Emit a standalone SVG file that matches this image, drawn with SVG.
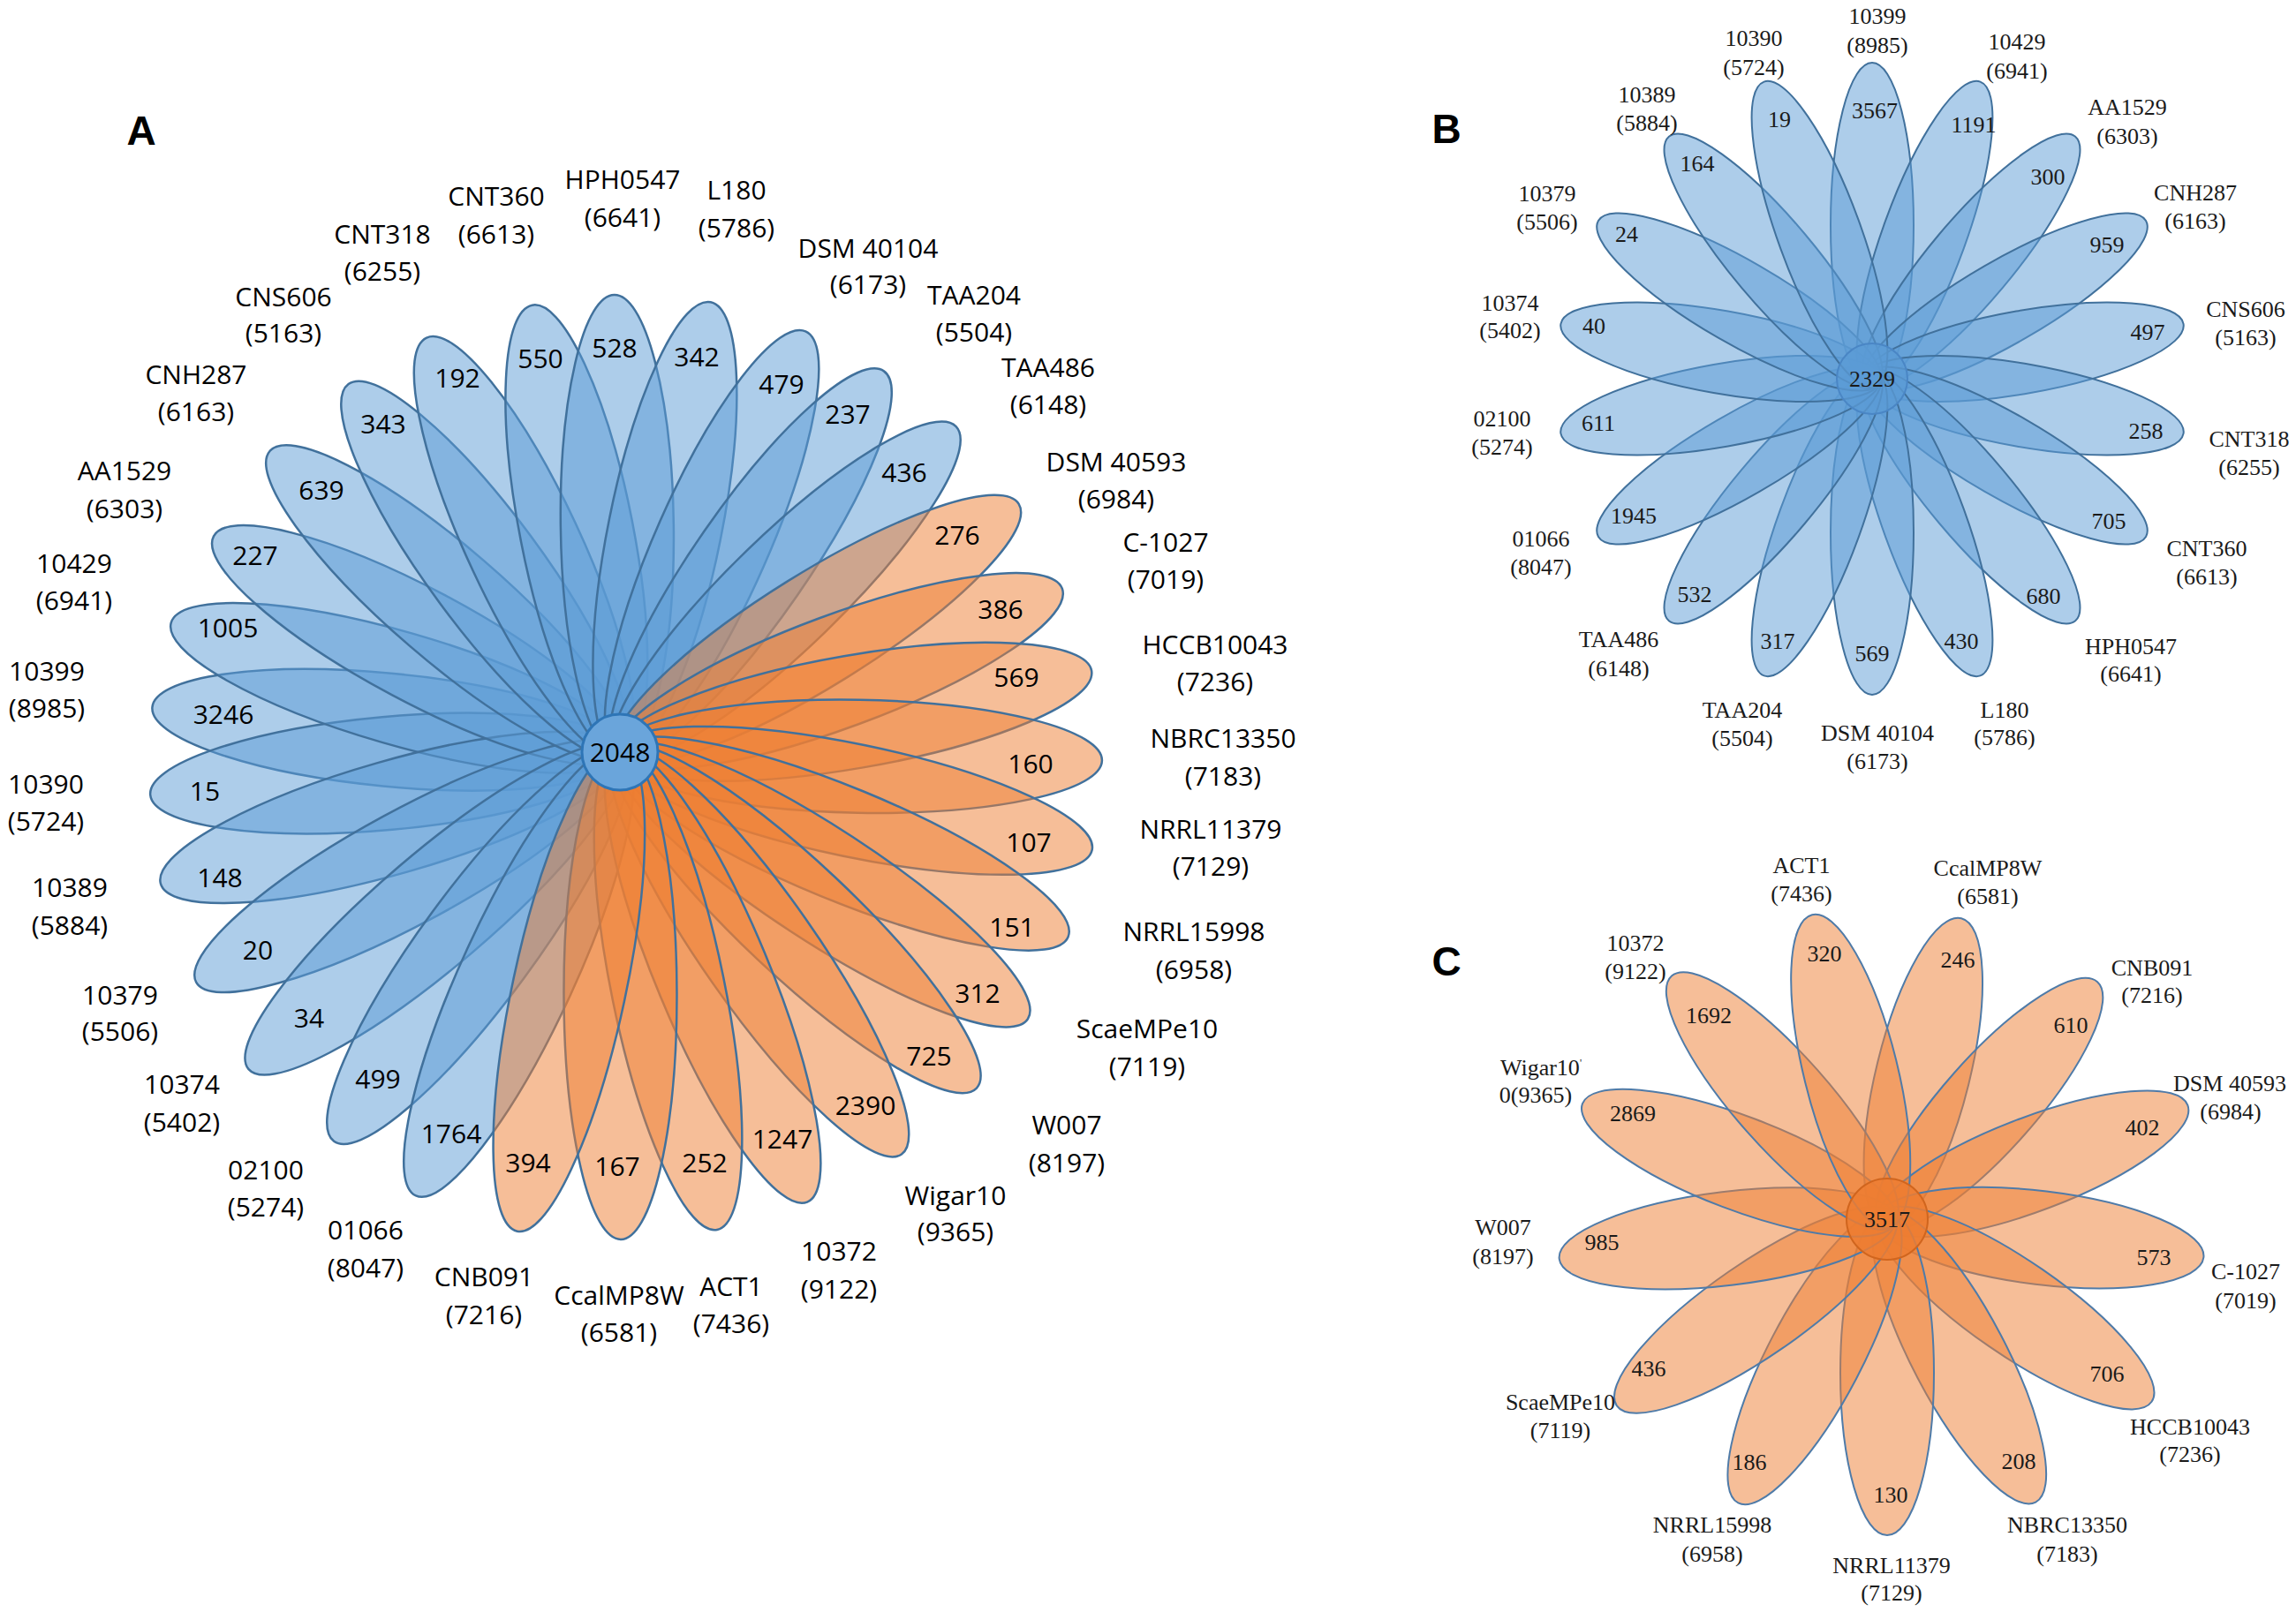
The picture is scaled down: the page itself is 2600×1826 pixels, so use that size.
<svg xmlns="http://www.w3.org/2000/svg" width="2600" height="1826" viewBox="0 0 2600 1826">
<style>
.bg{fill:#fff}
.pb{fill:#5B9BD5;fill-opacity:.5;stroke:#41719C;stroke-width:2.5}
.po{fill:#ED7D31;fill-opacity:.5;stroke:#41719C;stroke-width:2.5}
.qb{fill:#5B9BD5;fill-opacity:.5;stroke:#41719C;stroke-width:2}
.qo{fill:#ED7D31;fill-opacity:.5;stroke:#4F7BA8;stroke-width:2}
.ta{font-family:"Open Sans","Noto Sans",sans-serif;font-size:30px;fill:#000;text-anchor:middle}
.ts{font-family:"Liberation Serif","Times New Roman",serif;font-size:26px;fill:#1a1a1a;text-anchor:middle}
.pl{font-family:"Liberation Sans",Arial,sans-serif;font-size:46px;font-weight:bold;fill:#000;text-anchor:middle}
</style>
<rect class="bg" x="0" y="0" width="2600" height="1826"/>

<!-- Panel A -->
<g id="panelA">
 <g id="A-petals-blue" transform="translate(702 852)">
  <g id="A-p10399"><ellipse class="pb" transform="rotate(185.5)" cx="263.5" cy="0" rx="268.5" ry="64"/></g>
  <g id="A-p10390"><ellipse class="pb" transform="rotate(174.8)" cx="264.5" cy="0" rx="269.5" ry="64"/></g>
  <g id="A-p10429"><ellipse class="pb" transform="rotate(196.1)" cx="262" cy="0" rx="267" ry="64"/></g>
  <g id="A-p10389"><ellipse class="pb" transform="rotate(164)" cx="268" cy="0" rx="273" ry="64"/></g>
  <g id="A-pAA1529"><ellipse class="pb" transform="rotate(208)" cx="258" cy="0" rx="263" ry="64"/></g>
  <g id="A-p10379"><ellipse class="pb" transform="rotate(151.5)" cx="270.5" cy="0" rx="275.5" ry="64"/></g>
  <g id="A-pCNH287"><ellipse class="pb" transform="rotate(220.7)" cx="259" cy="0" rx="264" ry="64"/></g>
  <g id="A-p10374"><ellipse class="pb" transform="rotate(139.5)" cx="274" cy="0" rx="279" ry="64"/></g>
  <g id="A-pCNS606"><ellipse class="pb" transform="rotate(233.6)" cx="256.5" cy="0" rx="261.5" ry="64"/></g>
  <g id="A-p02100"><ellipse class="pb" transform="rotate(126.3)" cx="271" cy="0" rx="276" ry="64"/></g>
  <g id="A-pCNT318"><ellipse class="pb" transform="rotate(245)" cx="256.5" cy="0" rx="261.5" ry="64"/></g>
  <g id="A-p01066"><ellipse class="pb" transform="rotate(114.7)" cx="274" cy="0" rx="279" ry="64"/></g>
  <g id="A-pCNT360"><ellipse class="pb" transform="rotate(258.9)" cx="255.5" cy="0" rx="260.5" ry="64"/></g>
  <g id="A-pHPH0547"><ellipse class="pb" transform="rotate(-90.7)" cx="256.5" cy="0" rx="261.5" ry="64"/></g>
  <g id="A-pL180"><ellipse class="pb" transform="rotate(-78.6)" cx="257.5" cy="0" rx="262.5" ry="64"/></g>
  <g id="A-pDSM40104"><ellipse class="pb" transform="rotate(-66.2)" cx="258" cy="0" rx="263" ry="64"/></g>
  <g id="A-pTAA204"><ellipse class="pb" transform="rotate(-55.3)" cx="260" cy="0" rx="265" ry="64"/></g>
  <g id="A-pTAA486"><ellipse class="pb" transform="rotate(-44.1)" cx="262.5" cy="0" rx="267.5" ry="64"/></g>
 </g>
 <g id="A-petals-orange" transform="translate(702 852)">
  <g id="A-pDSM40593"><ellipse class="po" transform="rotate(-31.9)" cx="263.5" cy="0" rx="268.5" ry="64"/></g>
  <g id="A-pC1027"><ellipse class="po" transform="rotate(-20.3)" cx="264.5" cy="0" rx="269.5" ry="64"/></g>
  <g id="A-pHCCB10043"><ellipse class="po" transform="rotate(-9.8)" cx="268.5" cy="0" rx="273.5" ry="64"/></g>
  <g id="A-pNBRC13350"><ellipse class="po" transform="rotate(1)" cx="270.5" cy="0" rx="275.5" ry="64"/></g>
  <g id="A-pNRRL11379"><ellipse class="po" transform="rotate(11.7)" cx="270.5" cy="0" rx="275.5" ry="64"/></g>
  <g id="A-pNRRL15998"><ellipse class="po" transform="rotate(22.4)" cx="272" cy="0" rx="277" ry="64"/></g>
  <g id="A-pScaeMPe10"><ellipse class="po" transform="rotate(33.2)" cx="273.5" cy="0" rx="278.5" ry="64"/></g>
  <g id="A-pW007"><ellipse class="po" transform="rotate(43.3)" cx="275" cy="0" rx="280" ry="64"/></g>
  <g id="A-pWigar10"><ellipse class="po" transform="rotate(55)" cx="275.5" cy="0" rx="280.5" ry="64"/></g>
  <g id="A-p10372"><ellipse class="po" transform="rotate(67.4)" cx="273.5" cy="0" rx="278.5" ry="64"/></g>
  <g id="A-pACT1"><ellipse class="po" transform="rotate(78.5)" cx="273.5" cy="0" rx="278.5" ry="64"/></g>
  <g id="A-pCcalMP8W"><ellipse class="po" transform="rotate(89.9)" cx="273.5" cy="0" rx="278.5" ry="64"/></g>
  <g id="A-pCNB091"><ellipse class="po" transform="rotate(102.1)" cx="275" cy="0" rx="280" ry="64"/></g>
 </g>
 <g id="A-core">
  <circle cx="702" cy="852" r="43" fill="#6AA5DB" stroke="#2E75B6" stroke-width="3"/>
  <text class="ta" x="702" y="862.5">2048</text>
 </g>
 <g id="A-numbers">
  <text class="ta" x="696" y="404.5">528</text>
  <text class="ta" x="612" y="416.5">550</text>
  <text class="ta" x="518" y="438.5">192</text>
  <text class="ta" x="434" y="490.5">343</text>
  <text class="ta" x="364" y="565.5">639</text>
  <text class="ta" x="289" y="639.5">227</text>
  <text class="ta" x="258" y="721.5">1005</text>
  <text class="ta" x="253" y="819.5">3246</text>
  <text class="ta" x="232" y="906.5">15</text>
  <text class="ta" x="249" y="1004.5">148</text>
  <text class="ta" x="292" y="1086.5">20</text>
  <text class="ta" x="350" y="1163.5">34</text>
  <text class="ta" x="428" y="1232.5">499</text>
  <text class="ta" x="511" y="1294.5">1764</text>
  <text class="ta" x="598" y="1327.5">394</text>
  <text class="ta" x="699" y="1331.5">167</text>
  <text class="ta" x="798" y="1327.5">252</text>
  <text class="ta" x="886" y="1300.5">1247</text>
  <text class="ta" x="980" y="1262.5">2390</text>
  <text class="ta" x="1052" y="1206.5">725</text>
  <text class="ta" x="1107" y="1135.5">312</text>
  <text class="ta" x="1146" y="1060.5">151</text>
  <text class="ta" x="1165" y="964.5">107</text>
  <text class="ta" x="1167" y="875.5">160</text>
  <text class="ta" x="1151" y="777.5">569</text>
  <text class="ta" x="1133" y="700.5">386</text>
  <text class="ta" x="1084" y="616.5">276</text>
  <text class="ta" x="1024" y="545.5">436</text>
  <text class="ta" x="960" y="479.5">237</text>
  <text class="ta" x="885" y="445.5">479</text>
  <text class="ta" x="789" y="414.5">342</text>
 </g>
 <g id="A-labels">
  <text class="ta"><tspan x="562" y="232.5">CNT360</tspan><tspan x="562" y="275.5">(6613)</tspan></text>
  <text class="ta"><tspan x="705" y="213.5">HPH0547</tspan><tspan x="705" y="256.5">(6641)</tspan></text>
  <text class="ta"><tspan x="834" y="225.5">L180</tspan><tspan x="834" y="268.5">(5786)</tspan></text>
  <text class="ta"><tspan x="983" y="291.5">DSM 40104</tspan><tspan x="983" y="332.5">(6173)</tspan></text>
  <text class="ta"><tspan x="1103" y="344.5">TAA204</tspan><tspan x="1103" y="386.5">(5504)</tspan></text>
  <text class="ta"><tspan x="1187" y="426.5">TAA486</tspan><tspan x="1187" y="468.5">(6148)</tspan></text>
  <text class="ta"><tspan x="433" y="275.5">CNT318</tspan><tspan x="433" y="317.5">(6255)</tspan></text>
  <text class="ta"><tspan x="321" y="346.5">CNS606</tspan><tspan x="321" y="387.5">(5163)</tspan></text>
  <text class="ta"><tspan x="222" y="434.5">CNH287</tspan><tspan x="222" y="476.5">(6163)</tspan></text>
  <text class="ta"><tspan x="141" y="543.5">AA1529</tspan><tspan x="141" y="586.5">(6303)</tspan></text>
  <text class="ta"><tspan x="84" y="648.5">10429</tspan><tspan x="84" y="690.5">(6941)</tspan></text>
  <text class="ta"><tspan x="53" y="770.5">10399</tspan><tspan x="53" y="812.5">(8985)</tspan></text>
  <text class="ta"><tspan x="52" y="898.5">10390</tspan><tspan x="52" y="940.5">(5724)</tspan></text>
  <text class="ta"><tspan x="79" y="1015.5">10389</tspan><tspan x="79" y="1058.5">(5884)</tspan></text>
  <text class="ta"><tspan x="136" y="1137.5">10379</tspan><tspan x="136" y="1178.5">(5506)</tspan></text>
  <text class="ta"><tspan x="206" y="1238.5">10374</tspan><tspan x="206" y="1281.5">(5402)</tspan></text>
  <text class="ta"><tspan x="301" y="1335.5">02100</tspan><tspan x="301" y="1377.5">(5274)</tspan></text>
  <text class="ta"><tspan x="414" y="1403.5">01066</tspan><tspan x="414" y="1446.5">(8047)</tspan></text>
  <text class="ta"><tspan x="1264" y="533.5">DSM 40593</tspan><tspan x="1264" y="575.5">(6984)</tspan></text>
  <text class="ta"><tspan x="1320" y="624.5">C-1027</tspan><tspan x="1320" y="666.5">(7019)</tspan></text>
  <text class="ta"><tspan x="1376" y="740.5">HCCB10043</tspan><tspan x="1376" y="782.5">(7236)</tspan></text>
  <text class="ta"><tspan x="1385" y="846.5">NBRC13350</tspan><tspan x="1385" y="889.5">(7183)</tspan></text>
  <text class="ta"><tspan x="1371" y="949.5">NRRL11379</tspan><tspan x="1371" y="991.5">(7129)</tspan></text>
  <text class="ta"><tspan x="1352" y="1065.5">NRRL15998</tspan><tspan x="1352" y="1108.5">(6958)</tspan></text>
  <text class="ta"><tspan x="1299" y="1175.5">ScaeMPe10</tspan><tspan x="1299" y="1218.5">(7119)</tspan></text>
  <text class="ta"><tspan x="1208" y="1284.5">W007</tspan><tspan x="1208" y="1327.5">(8197)</tspan></text>
  <text class="ta"><tspan x="1082" y="1364.5">Wigar10</tspan><tspan x="1082" y="1405.5">(9365)</tspan></text>
  <text class="ta"><tspan x="950" y="1427.5">10372</tspan><tspan x="950" y="1470.5">(9122)</tspan></text>
  <text class="ta"><tspan x="828" y="1467.5">ACT1</tspan><tspan x="828" y="1509.5">(7436)</tspan></text>
  <text class="ta"><tspan x="701" y="1477.5">CcalMP8W</tspan><tspan x="701" y="1519.5">(6581)</tspan></text>
  <text class="ta"><tspan x="548" y="1456.5">CNB091</tspan><tspan x="548" y="1499.5">(7216)</tspan></text>
 </g>
 <text class="pl" x="160" y="164">A</text>
</g>

<!-- Panel B -->
<g id="panelB">
 <g id="B-petals" transform="translate(2120 429)">
  <g id="B-p10399"><ellipse class="qb" transform="rotate(-90)" cx="174" cy="0" rx="184" ry="47"/></g>
  <g id="B-p10429"><ellipse class="qb" transform="rotate(-70)" cx="174" cy="0" rx="184" ry="47"/></g>
  <g id="B-pAA1529"><ellipse class="qb" transform="rotate(-50)" cx="174" cy="0" rx="184" ry="47"/></g>
  <g id="B-pCNH287"><ellipse class="qb" transform="rotate(-30)" cx="174" cy="0" rx="184" ry="47"/></g>
  <g id="B-pCNS606"><ellipse class="qb" transform="rotate(-10)" cx="174" cy="0" rx="184" ry="47"/></g>
  <g id="B-pCNT318"><ellipse class="qb" transform="rotate(10)" cx="174" cy="0" rx="184" ry="47"/></g>
  <g id="B-pCNT360"><ellipse class="qb" transform="rotate(30)" cx="174" cy="0" rx="184" ry="47"/></g>
  <g id="B-pHPH0547"><ellipse class="qb" transform="rotate(50)" cx="174" cy="0" rx="184" ry="47"/></g>
  <g id="B-pL180"><ellipse class="qb" transform="rotate(70)" cx="174" cy="0" rx="184" ry="47"/></g>
  <g id="B-pDSM40104"><ellipse class="qb" transform="rotate(90)" cx="174" cy="0" rx="184" ry="47"/></g>
  <g id="B-pTAA204"><ellipse class="qb" transform="rotate(110)" cx="174" cy="0" rx="184" ry="47"/></g>
  <g id="B-pTAA486"><ellipse class="qb" transform="rotate(130)" cx="174" cy="0" rx="184" ry="47"/></g>
  <g id="B-p01066"><ellipse class="qb" transform="rotate(150)" cx="174" cy="0" rx="184" ry="47"/></g>
  <g id="B-p02100"><ellipse class="qb" transform="rotate(170)" cx="174" cy="0" rx="184" ry="47"/></g>
  <g id="B-p10374"><ellipse class="qb" transform="rotate(190)" cx="174" cy="0" rx="184" ry="47"/></g>
  <g id="B-p10379"><ellipse class="qb" transform="rotate(210)" cx="174" cy="0" rx="184" ry="47"/></g>
  <g id="B-p10389"><ellipse class="qb" transform="rotate(230)" cx="174" cy="0" rx="184" ry="47"/></g>
  <g id="B-p10390"><ellipse class="qb" transform="rotate(250)" cx="174" cy="0" rx="184" ry="47"/></g>
 </g>
 <g id="B-core">
  <circle cx="2120" cy="429" r="40" fill="#5B9BD5" fill-opacity=".75" stroke="#4A86C5" stroke-width="2"/>
  <text class="ts" x="2120" y="438">2329</text>
 </g>
 <g id="B-numbers">
  <text class="ts" x="2123" y="134">3567</text>
  <text class="ts" x="2015" y="144">19</text>
  <text class="ts" x="1922" y="194">164</text>
  <text class="ts" x="1842" y="274">24</text>
  <text class="ts" x="1805" y="378">40</text>
  <text class="ts" x="1810" y="488">611</text>
  <text class="ts" x="1850" y="593">1945</text>
  <text class="ts" x="1919" y="682">532</text>
  <text class="ts" x="2013" y="735">317</text>
  <text class="ts" x="2120" y="749">569</text>
  <text class="ts" x="2221" y="735">430</text>
  <text class="ts" x="2314" y="684">680</text>
  <text class="ts" x="2388" y="599">705</text>
  <text class="ts" x="2430" y="497">258</text>
  <text class="ts" x="2432" y="385">497</text>
  <text class="ts" x="2386" y="286">959</text>
  <text class="ts" x="2319" y="209">300</text>
  <text class="ts" x="2235" y="150">1191</text>
 </g>
 <g id="B-labels">
  <text class="ts"><tspan x="2126" y="27">10399</tspan><tspan x="2126" y="60">(8985)</tspan></text>
  <text class="ts"><tspan x="1986" y="52">10390</tspan><tspan x="1986" y="85">(5724)</tspan></text>
  <text class="ts"><tspan x="2284" y="56">10429</tspan><tspan x="2284" y="89">(6941)</tspan></text>
  <text class="ts"><tspan x="1865" y="116">10389</tspan><tspan x="1865" y="148">(5884)</tspan></text>
  <text class="ts"><tspan x="2409" y="130">AA1529</tspan><tspan x="2409" y="163">(6303)</tspan></text>
  <text class="ts"><tspan x="1752" y="228">10379</tspan><tspan x="1752" y="260">(5506)</tspan></text>
  <text class="ts"><tspan x="2486" y="227">CNH287</tspan><tspan x="2486" y="259">(6163)</tspan></text>
  <text class="ts"><tspan x="1710" y="352">10374</tspan><tspan x="1710" y="383">(5402)</tspan></text>
  <text class="ts"><tspan x="2543" y="359">CNS606</tspan><tspan x="2543" y="391">(5163)</tspan></text>
  <text class="ts"><tspan x="1701" y="483">02100</tspan><tspan x="1701" y="515">(5274)</tspan></text>
  <text class="ts"><tspan x="2547" y="506">CNT318</tspan><tspan x="2547" y="538">(6255)</tspan></text>
  <text class="ts"><tspan x="1745" y="619">01066</tspan><tspan x="1745" y="651">(8047)</tspan></text>
  <text class="ts"><tspan x="2499" y="630">CNT360</tspan><tspan x="2499" y="662">(6613)</tspan></text>
  <text class="ts"><tspan x="1833" y="733">TAA486</tspan><tspan x="1833" y="766">(6148)</tspan></text>
  <text class="ts"><tspan x="2413" y="741">HPH0547</tspan><tspan x="2413" y="772">(6641)</tspan></text>
  <text class="ts"><tspan x="1973" y="813">TAA204</tspan><tspan x="1973" y="845">(5504)</tspan></text>
  <text class="ts"><tspan x="2270" y="813">L180</tspan><tspan x="2270" y="844">(5786)</tspan></text>
  <text class="ts"><tspan x="2126" y="839">DSM 40104</tspan><tspan x="2126" y="871">(6173)</tspan></text>
 </g>
 <text class="pl" x="1638" y="162">B</text>
</g>

<!-- Panel C -->
<g id="panelC">
 <g id="C-petals" transform="translate(2137 1381)">
  <g id="C-pCcalMP8W"><ellipse class="qo" transform="rotate(-76.15)" cx="170.5" cy="0" rx="180.5" ry="53"/></g>
  <g id="C-pCNB091"><ellipse class="qo" transform="rotate(-48.46)" cx="174.5" cy="0" rx="184.5" ry="53"/></g>
  <g id="C-pDSM40593"><ellipse class="qo" transform="rotate(-20.77)" cx="177" cy="0" rx="187" ry="53"/></g>
  <g id="C-pC1027"><ellipse class="qo" transform="rotate(6.92)" cx="175.5" cy="0" rx="185.5" ry="53"/></g>
  <g id="C-pHCCB10043"><ellipse class="qo" transform="rotate(34.62)" cx="177" cy="0" rx="187" ry="53"/></g>
  <g id="C-pNBRC13350"><ellipse class="qo" transform="rotate(62.31)" cx="176" cy="0" rx="186" ry="53"/></g>
  <g id="C-pNRRL11379"><ellipse class="qo" transform="rotate(90)" cx="174" cy="0" rx="184" ry="53"/></g>
  <g id="C-pNRRL15998"><ellipse class="qo" transform="rotate(117.69)" cx="176.5" cy="0" rx="186.5" ry="53"/></g>
  <g id="C-pScaeMPe10"><ellipse class="qo" transform="rotate(145.38)" cx="181" cy="0" rx="191" ry="53"/></g>
  <g id="C-pW007"><ellipse class="qo" transform="rotate(173.08)" cx="182" cy="0" rx="192" ry="53"/></g>
  <g id="C-pWigar10"><ellipse class="qo" transform="rotate(200.77)" cx="179.5" cy="0" rx="189.5" ry="53"/></g>
  <g id="C-p10372"><ellipse class="qo" transform="rotate(228.46)" cx="179" cy="0" rx="189" ry="53"/></g>
  <g id="C-pACT1"><ellipse class="qo" transform="rotate(256.15)" cx="172.5" cy="0" rx="182.5" ry="53"/></g>
 </g>
 <g id="C-core">
  <circle cx="2137" cy="1381" r="46" fill="#ED7D31" fill-opacity=".85" stroke="#D0651E" stroke-width="2"/>
  <text class="ts" x="2137" y="1390">3517</text>
 </g>
 <g id="C-numbers">
  <text class="ts" x="2066" y="1089">320</text>
  <text class="ts" x="2217" y="1096">246</text>
  <text class="ts" x="2345" y="1170">610</text>
  <text class="ts" x="2426" y="1286">402</text>
  <text class="ts" x="2439" y="1433">573</text>
  <text class="ts" x="2386" y="1565">706</text>
  <text class="ts" x="2286" y="1664">208</text>
  <text class="ts" x="2141" y="1702">130</text>
  <text class="ts" x="1981" y="1665">186</text>
  <text class="ts" x="1867" y="1559">436</text>
  <text class="ts" x="1814" y="1416">985</text>
  <text class="ts" x="1849" y="1270">2869</text>
  <text class="ts" x="1935" y="1159">1692</text>
 </g>
 <g id="C-labels">
  <text class="ts"><tspan x="2040" y="989">ACT1</tspan><tspan x="2040" y="1021">(7436)</tspan></text>
  <text class="ts"><tspan x="2251" y="992">CcalMP8W</tspan><tspan x="2251" y="1024">(6581)</tspan></text>
  <text class="ts"><tspan x="1852" y="1077">10372</tspan><tspan x="1852" y="1109">(9122)</tspan></text>
  <text class="ts"><tspan x="2437" y="1105">CNB091</tspan><tspan x="2437" y="1136">(7216)</tspan></text>
  <text class="ts"><tspan x="1745" y="1218">Wigar10<tspan font-size="12" dy="-10">'</tspan></tspan><tspan x="1739" y="1249">0(9365)</tspan></text>
  <text class="ts"><tspan x="2525" y="1236">DSM 40593</tspan><tspan x="2526" y="1268">(6984)</tspan></text>
  <text class="ts"><tspan x="1702" y="1399">W007</tspan><tspan x="1702" y="1432">(8197)</tspan></text>
  <text class="ts"><tspan x="2543" y="1449">C-1027</tspan><tspan x="2543" y="1482">(7019)</tspan></text>
  <text class="ts"><tspan x="1767" y="1597">ScaeMPe10</tspan><tspan x="1767" y="1629">(7119)</tspan></text>
  <text class="ts"><tspan x="2480" y="1625">HCCB10043</tspan><tspan x="2480" y="1656">(7236)</tspan></text>
  <text class="ts"><tspan x="1939" y="1736">NRRL15998</tspan><tspan x="1939" y="1769">(6958)</tspan></text>
  <text class="ts"><tspan x="2341" y="1736">NBRC13350</tspan><tspan x="2341" y="1769">(7183)</tspan></text>
  <text class="ts"><tspan x="2142" y="1782">NRRL11379</tspan><tspan x="2142" y="1813">(7129)</tspan></text>
 </g>
 <text class="pl" x="1638" y="1105">C</text>
</g>
</svg>
